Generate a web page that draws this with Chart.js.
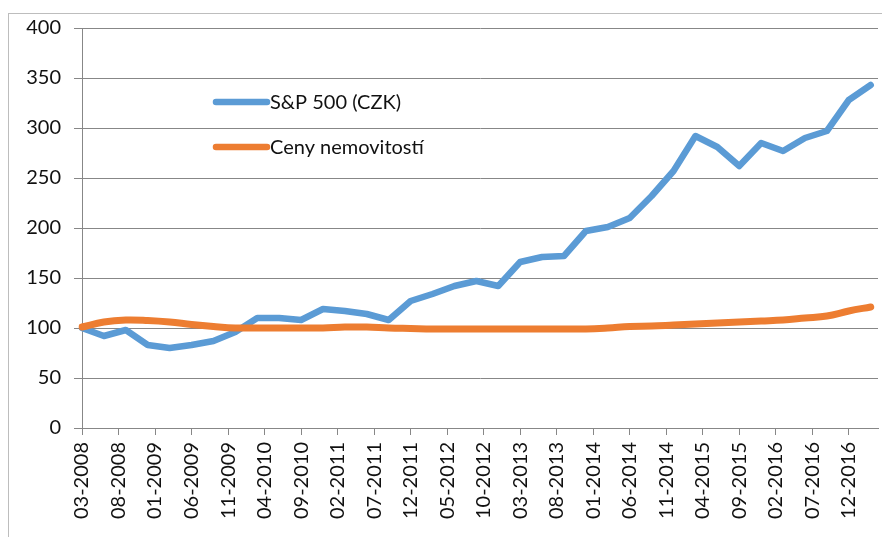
<!DOCTYPE html>
<html>
<head>
<meta charset="utf-8">
<script src="https://cdn.jsdelivr.net/npm/chart.js@4.4.1/dist/chart.umd.min.js"></script>
<style>
    html, body { margin: 0; padding: 0; background: #fff; overflow: hidden; }
    #wrap { position: relative; width: 882px; height: 537px; }
    #frame { position: absolute; left: 8px; top: 13px; width: 900px; height: 600px;
             border-left: 1px solid #bdbdbd; border-top: 1px solid #bdbdbd; }
    canvas { position: absolute; left: 0; top: 0; }
</style>
</head>
<body>
<div id="wrap">
    <div id="frame"></div>
    <canvas id="chart" width="882" height="537"></canvas>
</div>
<script>
// Monthly axis 03-2008 .. 04-2017, labelled every 5 months
const startYear = 2008;
const startMonth = 3;
const monthCount = 110;
const labelEvery = 5;

// Quarterly values (03-2008, 06-2008, ... 03-2017)
const spValues = [
    100, 92, 98, 83, 80, 83, 87, 96, 110, 110,
    108, 119, 117, 114, 108, 127, 134, 142, 147, 142,
    166, 171, 172, 197, 201, 210, 232, 257, 292, 281,
    262, 285, 277, 290, 297, 328, 343
];
const housingValues = [
    101, 106, 108, 107.5, 106, 103.5, 101.5, 100, 100, 100,
    100, 100, 101, 101, 100, 99.5, 99, 99, 99, 99,
    99, 99, 99, 99, 100, 101.5, 102, 103, 104, 105,
    106, 107, 108, 110, 112, 117, 121
];
const seriesNames = ['S&P 500 (CZK)', 'Ceny nemovitostí'];
const seriesColors = ['#5b9bd5', '#ed7d31'];

const monthLabels = [];
for (let i = 0; i < monthCount; i++) {
    const m = (startMonth - 1 + i) % 12 + 1;
    const y = startYear + Math.floor((startMonth - 1 + i) / 12);
    monthLabels.push(String(m).padStart(2, '0') + '-' + y);
}

// put each quarterly value on its month, other months stay empty
function toMonthly(values) {
    return monthLabels.map((_, i) => (i % 3 === 0 && i / 3 < values.length) ? values[i / 3] : null);
}

const gridColor = '#878787';
const textColor = '#111';
const fontFamily = 'Lato, "Open Sans", sans-serif';

// legend drawn inside the plot, like the original
const inlineLegend = {
    id: 'inlineLegend',
    afterDraw(chart) {
        const ctx = chart.ctx;
        const area = chart.chartArea;
        ctx.save();
        ctx.font = '20px ' + fontFamily;
        ctx.textBaseline = 'middle';
        ctx.lineCap = 'round';
        seriesNames.forEach((name, i) => {
            const y = area.top + 74 + i * 45;
            const x0 = area.left + 134;
            ctx.strokeStyle = seriesColors[i];
            ctx.lineWidth = 6.5;
            ctx.beginPath();
            ctx.moveTo(x0, y);
            ctx.lineTo(x0 + 51, y);
            ctx.stroke();
            ctx.fillStyle = textColor;
            ctx.fillText(name, x0 + 54, y + 1);
        });
        ctx.restore();
    }
};

new Chart(document.getElementById('chart'), {
    type: 'line',
    data: {
        labels: monthLabels,
        datasets: [{
            label: seriesNames[0],
            data: toMonthly(spValues),
            borderColor: seriesColors[0],
            borderWidth: 6.5,
            pointRadius: 0,
            tension: 0,
            spanGaps: true,
            borderJoinStyle: 'round',
            borderCapStyle: 'round',
            order: 1
        }, {
            label: seriesNames[1],
            data: toMonthly(housingValues),
            borderColor: seriesColors[1],
            borderWidth: 7,
            pointRadius: 0,
            tension: 0.4,
            spanGaps: true,
            borderJoinStyle: 'round',
            borderCapStyle: 'round',
            order: 0
        }]
    },
    options: {
        responsive: false,
        animation: false,
        layout: { padding: { top: 28, right: 4, bottom: 0, left: 0 } },
        plugins: {
            legend: { display: false },
            tooltip: { enabled: false }
        },
        scales: {
            x: {
                type: 'category',
                offset: false,
                grid: { drawOnChartArea: false, drawTicks: true, tickLength: 7, color: gridColor },
                border: { color: gridColor, width: 1 },
                ticks: {
                    autoSkip: false,
                    maxRotation: 90,
                    minRotation: 90,
                    padding: 7,
                    color: textColor,
                    font: { family: fontFamily, size: 20 },
                    callback: function(val, idx) {
                        return idx % labelEvery === 0 ? this.getLabelForValue(val) : null;
                    }
                },
                afterFit: s => { s.height = 109; }
            },
            y: {
                min: 0,
                max: 400,
                grid: { color: gridColor, tickLength: 8 },
                border: { color: gridColor, width: 1 },
                ticks: {
                    stepSize: 50,
                    padding: 13,
                    color: textColor,
                    font: { family: fontFamily, size: 20 }
                },
                afterFit: s => { s.width = 82; }
            }
        }
    },
    plugins: [inlineLegend]
});
</script>
</body>
</html>
